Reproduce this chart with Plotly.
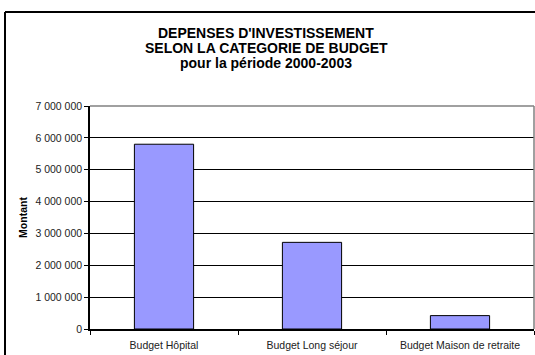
import plotly.graph_objects as go

# data
categories = ["Budget Hôpital", "Budget Long séjour", "Budget Maison de retraite"]
montants = [5800000, 2720000, 420000]
title_lines = ["DEPENSES D'INVESTISSEMENT", "SELON LA CATEGORIE DE BUDGET", "pour la période 2000-2003"]

W, H = 535, 355
ML, MR, MT, MB = 90, 1, 106, 26
pw = W - ML - MR
ph = H - MT - MB


def px_x(x):
    return (x - ML) / pw


def px_y(y):
    return 1 + (MT - y) / ph


font = "Liberation Sans, Arial, sans-serif"

fig = go.Figure(
    go.Bar(
        x=categories, y=montants, width=0.4,
        marker=dict(color="#9999FF", line=dict(color="black", width=1)),
    )
)

# title as three tightly spaced lines, like the spreadsheet chart
for i, line in enumerate(title_lines):
    fig.add_annotation(
        text="<b>%s</b>" % line, xref="paper", yref="paper",
        x=px_x(266), y=px_y(33 + 15 * i), xanchor="center", yanchor="middle",
        showarrow=False, font=dict(family=font, size=14, color="black"),
    )

frame = dict(color="black", width=2)
fig.update_layout(
    width=W, height=H,
    margin=dict(l=ML, r=MR, t=MT, b=MB),
    paper_bgcolor="white", plot_bgcolor="white",
    separators=", ",
    showlegend=False,
    font=dict(family=font, size=10.5, color="black"),
    shapes=[
        # outer frame (left and top, the rest runs off the picture)
        dict(type="line", xref="paper", yref="paper",
             x0=px_x(5), x1=px_x(5), y0=px_y(360), y1=px_y(12), line=frame),
        dict(type="line", xref="paper", yref="paper",
             x0=px_x(5), x1=px_x(540), y0=px_y(12), y1=px_y(12), line=frame),
        # top and right border of plot area
        dict(type="line", xref="paper", yref="paper", x0=0, x1=1, y0=1, y1=1,
             line=dict(color="#808080", width=1.5), layer="above"),
        dict(type="line", xref="paper", yref="paper", x0=1, x1=1, y0=0, y1=1,
             line=dict(color="#808080", width=1.5), layer="above"),
    ],
)

fig.update_yaxes(
    range=[0, 7000000], dtick=1000000, tickformat=",d",
    showgrid=True, gridcolor="black", gridwidth=1,
    showline=True, linecolor="black", linewidth=1.5,
    ticks="outside", ticklen=4, tickcolor="black",
    tickfont=dict(size=10.5, color="#222222"),
    zeroline=False,
    title=dict(text="<b>Montant</b>", font=dict(size=10.5), standoff=6),
)
fig.update_xaxes(
    showline=True, linecolor="black", linewidth=1.5,
    ticks="outside", ticklen=4, tickcolor="black", tickson="boundaries",
    tickfont=dict(size=10.5, color="#222222"), ticklabelstandoff=6,
    showgrid=False,
)

fig.write_html(
    "out.html",
    config={"displayModeBar": False},
    post_script="document.body.style.margin='0';document.body.style.overflow='hidden';",
)
